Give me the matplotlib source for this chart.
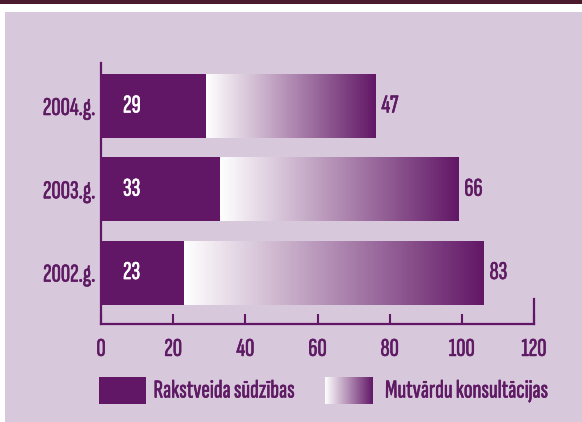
import matplotlib
matplotlib.use("Agg")
import matplotlib.pyplot as plt
import matplotlib.patheffects as pe
from matplotlib.text import Text
import numpy as np
from matplotlib.colors import LinearSegmentedColormap
from matplotlib.patches import Rectangle

# data
years = ["2002.g.", "2003.g.", "2004.g."]
rakstveida = [23, 33, 29]
mutvardu = [83, 66, 47]
xticks = [0, 20, 40, 60, 80, 100, 120]
legend_labels = ["Rakstveida sūdzības", "Mutvārdu konsultācijas"]

dark = "#621766"
txt = "#5e1a63"
bg = "#d8c8dc"
strip = "#4b1b2d"
cmap = LinearSegmentedColormap.from_list("grad", ["#ffffff", dark])

plt.rcParams['font.family'] = ['Sofia Sans Extra Condensed', 'DejaVu Sans']
fs = 18.5

W, H = 582, 422
fig = plt.figure(figsize=(W / 100, H / 100), dpi=100, facecolor="white")

def fx(px):
    return px / W

def fy(py):
    return 1 - py / H

# background panel and top strip
fig.patches.append(Rectangle((fx(4.5), 0), 1, fy(11.5), transform=fig.transFigure,
                             facecolor=bg, edgecolor="none", zorder=-5))
fig.patches.append(Rectangle((0, fy(3.5)), 1, 1, transform=fig.transFigure,
                             facecolor=strip, edgecolor="none", zorder=-5))

ax = fig.add_axes([fx(101), fy(324), fx(534) - fx(101), fy(63) - fy(324)])
ax.set_facecolor("none")

y = np.arange(len(years))
h = 0.768
ax.barh(y, rakstveida, height=h, color=dark, zorder=2)
ax.barh(y, mutvardu, left=rakstveida, height=h, color="none", zorder=2)

grad = np.linspace(0, 1, 256).reshape(1, -1)
for i in range(len(years)):
    x0 = rakstveida[i]
    x1 = rakstveida[i] + mutvardu[i]
    ax.imshow(grad, cmap=cmap, aspect="auto", interpolation="bicubic",
              extent=(x0, x1, y[i] - h / 2, y[i] + h / 2), zorder=2)
    ax.text(6.1, y[i], str(rakstveida[i]), color="white", fontsize=fs,
            ha="left", va="center", zorder=3)
    ax.text(x1 + 1.7, y[i], str(mutvardu[i]), color=txt, fontsize=fs,
            ha="left", va="center", zorder=3)

ax.set_xlim(0, 120)
ax.set_ylim(-0.618, 2.516)
ax.set_xticks(xticks)
ax.set_yticks(y)
ax.set_yticklabels(years)

ax.spines["top"].set_visible(False)
for s in ["left", "bottom", "right"]:
    ax.spines[s].set_color(dark)
    ax.spines[s].set_linewidth(1.6)
ax.spines["right"].set_bounds(-0.618, -0.618 + 25 / 83.3)
ax.tick_params(axis="x", direction="in", length=7, width=1.5, color=dark,
               labelsize=fs, labelcolor=txt, pad=10)
ax.tick_params(axis="y", length=0, labelsize=fs, labelcolor=txt, pad=4)

# legend
fig.patches.append(Rectangle((fx(99), fy(404)), fx(146) - fx(99), fy(377) - fy(404),
                             transform=fig.transFigure, facecolor=dark,
                             edgecolor="none", zorder=2))
fig.text(fx(153.5), fy(391), legend_labels[0], color=txt, fontsize=fs,
         ha="left", va="center")
lax = fig.add_axes([fx(324.5), fy(404), fx(372) - fx(324.5), fy(377) - fy(404)])
lax.imshow(grad, cmap=cmap, aspect="auto", interpolation="bicubic")
lax.axis("off")
fig.text(fx(385), fy(391), legend_labels[1], color=txt, fontsize=fs,
         ha="left", va="center")

# slightly thicker strokes, the font has no medium weight
for t in fig.findobj(Text):
    t.set_path_effects([pe.Stroke(linewidth=0.45), pe.Normal()])

fig.savefig("out.png", dpi=100, facecolor="white")
